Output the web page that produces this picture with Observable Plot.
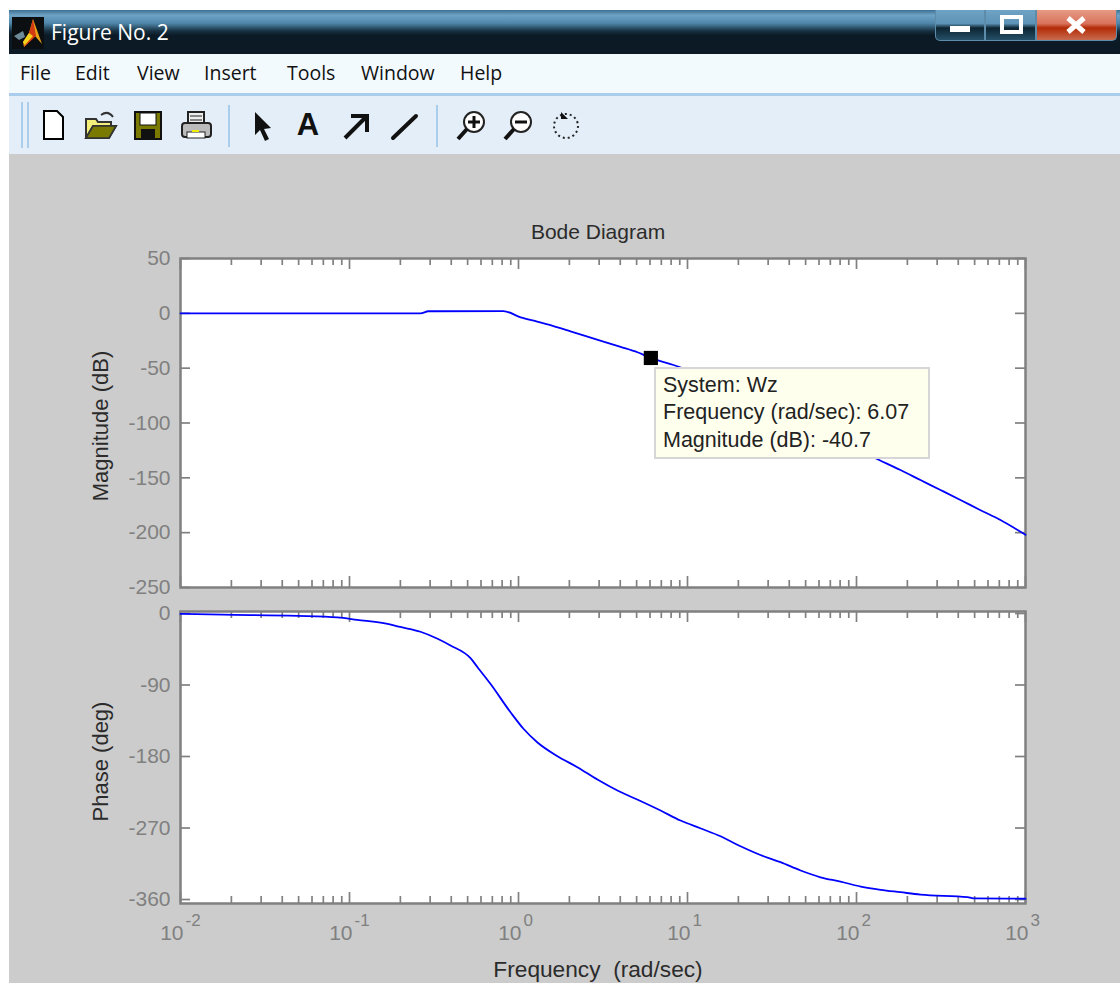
<!DOCTYPE html>
<html>
<head>
<meta charset="utf-8">
<script src="https://cdn.jsdelivr.net/npm/d3@7"></script>
<script src="https://cdn.jsdelivr.net/npm/@observablehq/plot@0.6"></script>
<style>
  html, body { margin:0; padding:0; background:#fff; }
  #page { position:relative; width:1120px; height:983px; overflow:hidden; font-family:"Liberation Sans",Arial,sans-serif; }
  #page > * { position:absolute; }
  #win { left:9px; top:10px; right:0; bottom:0; background:#cccccc; }
  #titlebar { left:9px; right:0; top:10px; height:44px;
    background:linear-gradient(#3d6f92 0,#6ea3c6 12%,#4f86a9 30%,#173040 48%,#0b1a24 58%,#0b1a24 100%); }
  #wintitle { left:51px; top:18px; color:#fff; font:21px "Open Sans",sans-serif; white-space:pre; }
  #menu { left:9px; right:0; top:54px; height:40px; background:#f3fafe; }
  .mi { top:59px; font:19.5px "Open Sans",sans-serif; color:#111; }
  #rule { left:9px; right:0; top:93px; height:3px; background:#a9cdea; }
  #tools { left:9px; right:0; top:96px; height:58px; background:#e4eef9; }
  .sep { top:105px; width:2px; height:42px; background:#a9cdea; }
  .ico { top:108px; width:34px; height:36px; overflow:visible; }
  .wb { top:10px; height:31px; border:1px solid #5d8cab; border-top:none; box-sizing:border-box;
    background:linear-gradient(#6fa3c6 0,#5d93b6 45%,#0d2431 60%,#245068 100%); }
  #wclose { background:linear-gradient(#e69a84 0,#d9735c 45%,#b22b06 60%,#c86b50 100%); border-radius:0 0 5px 0; }
  #wmin { border-radius:0 0 0 5px; }
  #tip { left:654px; top:367px; width:276px; height:92px; box-sizing:border-box; background:#ffffee; border:2px solid #d6d6d6; }
  .tl { left:663px; font:21.5px "Liberation Sans",Arial,sans-serif; color:#222; white-space:pre; }
</style>
</head>
<body>
<div id="page">
  <div id="win"></div>
  <div id="titlebar"></div>
  <svg class="ico" style="left:12px;top:16px;width:32px;height:34px" viewBox="0 0 32 34">
    <rect width="32" height="32" y="1" fill="#0b0f12"/>
    <path d="M2 20 L11 15 L13 21 L7 24Z" fill="#6d8b96"/>
    <path d="M21 3 L30 28 L23 20 L12 31 L11 26 L17 17Z" fill="#e8a217"/>
    <path d="M21 3 L24 20 L12 31 L17 17Z" fill="#d43a12"/>
    <path d="M17 17 L21 20 L13 29 L11 26Z" fill="#f4d31c"/>
  </svg>
  <div id="wintitle">Figure No. 2</div>

  <div class="wb" id="wmin" style="left:935px;width:50px"></div>
  <div class="wb" style="left:985px;width:51px"></div>
  <div class="wb" id="wclose" style="left:1036px;width:81px"></div>
  <svg class="ico" style="left:935px;top:10px;width:182px;height:31px;overflow:visible" viewBox="0 0 182 31">
    <rect x="15" y="16" width="20" height="6" fill="#fff"/>
    <rect x="67" y="7" width="19" height="15" fill="none" stroke="#fff" stroke-width="4"/>
    <path d="M133 8 L149 22 M149 8 L133 22" stroke="#fff" stroke-width="5"/>
  </svg>

  <div id="menu"></div>
  <div class="mi" style="left:20px">File</div>
  <div class="mi" style="left:75px">Edit</div>
  <div class="mi" style="left:137px">View</div>
  <div class="mi" style="left:204px">Insert</div>
  <div class="mi" style="left:287px">Tools</div>
  <div class="mi" style="left:361px">Window</div>
  <div class="mi" style="left:460px">Help</div>
  <div id="rule"></div>
  <div id="tools"></div>

  <div class="sep" style="left:21px;width:2px;top:102px;height:46px"></div>
  <div class="sep" style="left:27px;width:2px;top:102px;height:46px"></div>
  <div class="sep" style="left:228px"></div>
  <div class="sep" style="left:436px"></div>

  <svg class="ico" style="left:36px" viewBox="0 0 34 36"><path d="M8 3H21L27 9V31H8Z" fill="#fff" stroke="#000" stroke-width="2"/></svg>
  <svg class="ico" style="left:83px" viewBox="0 0 34 36"><path d="M3 30V11H13L15 14H28V18H10L3 30H26L33 18H10" fill="#f4ef7a" stroke="#333" stroke-width="2"/><path d="M3 30L10 18H33L26 30Z" fill="#7a7a00" stroke="#333" stroke-width="1.5"/><path d="M18 7Q25 2 30 9" fill="none" stroke="#333" stroke-width="2"/></svg>
  <svg class="ico" style="left:131px" viewBox="0 0 34 36"><rect x="4" y="4" width="26" height="27" fill="#7a7a00" stroke="#111" stroke-width="2"/><rect x="9" y="5" width="16" height="12" fill="#fff" stroke="#111"/><rect x="10" y="21" width="14" height="10" fill="#111"/></svg>
  <svg class="ico" style="left:179px" viewBox="0 0 34 36"><path d="M9 15V4H25V15" fill="#eee" stroke="#222" stroke-width="2"/><path d="M11 8H23M11 12H23" stroke="#222"/><rect x="3" y="15" width="29" height="14" rx="3" fill="#bbb" stroke="#222" stroke-width="2"/><rect x="8" y="24" width="18" height="6" fill="#fff" stroke="#222"/><rect x="13" y="22" width="7" height="2" fill="#ee0"/></svg>
  <svg class="ico" style="left:245px" viewBox="0 0 34 36"><path d="M10 4 L10 27 L15 22 L20 33 L24 31 L19 21 L26 20Z" fill="#111"/></svg>
  <div class="ico" style="left:291px;top:107px;font:700 31px 'Liberation Sans';text-align:center;color:#111;">A</div>
  <svg class="ico" style="left:339px" viewBox="0 0 34 36"><path d="M6 30L26 10M12 8H28V24" fill="none" stroke="#111" stroke-width="4"/></svg>
  <svg class="ico" style="left:387px" viewBox="0 0 34 36"><path d="M6 30L29 8" fill="none" stroke="#111" stroke-width="4" stroke-linecap="round"/></svg>
  <svg class="ico" style="left:454px" viewBox="0 0 34 36"><circle cx="20" cy="14" r="10" fill="#fff" stroke="#222" stroke-width="2"/><path d="M13 21L4 31" stroke="#111" stroke-width="4"/><path d="M20 8V20M14 14H26" stroke="#111" stroke-width="3"/></svg>
  <svg class="ico" style="left:501px" viewBox="0 0 34 36"><circle cx="20" cy="14" r="10" fill="#fff" stroke="#222" stroke-width="2"/><path d="M13 21L4 31" stroke="#111" stroke-width="4"/><path d="M14 14H26" stroke="#111" stroke-width="3"/></svg>
  <svg class="ico" style="left:549px" viewBox="0 0 34 36"><circle cx="17" cy="18" r="12" fill="none" stroke="#222" stroke-width="2" stroke-dasharray="2 3"/><path d="M12 4V11H19Z" fill="#111"/></svg>

  <div id="top" style="left:0;top:210px"></div>
  <div id="bottom" style="left:0;top:600px"></div>

  <div id="tip"></div>
  <div class="tl" style="top:373px">System: Wz</div>
  <div class="tl" style="top:400px">Frequency (rad/sec): 6.07</div>
  <div class="tl" style="top:428px">Magnitude (dB): -40.7</div>
</div>

<script>
// Frequencies (rad/sec) and readings of the magnitude curve
const magFreq = [0.01, 0.263, 0.293, 0.815, 1.03, 1.29, 1.61, 2.03, 2.56, 3.18, 4.02, 5.06, 6.07, 6.64, 8.26, 139, 182, 239, 314, 412, 542, 711, 1000];
const magDb   = [0, 0, 1.9, 2, -3.6, -7.6, -11.6, -16.4, -21.3, -25.8, -30.6, -35.5, -40.7, -42.6, -47.1, -134.4, -142.9, -152, -161.1, -170.2, -179.5, -188.5, -202];

// Frequencies (rad/sec) and readings of the phase curve
const phaseFreq = [0.01, 0.0177, 0.0492, 0.0849, 0.111, 0.168, 0.2, 0.263, 0.332, 0.396, 0.52, 0.572, 0.682, 0.897, 1.07, 1.29, 1.7, 2.23, 2.93, 3.85, 5.27, 6.93, 9.09, 11.9, 15.7, 20.6, 27, 35.5, 46.7, 61.2, 80.4, 106, 139, 182, 239, 454, 492, 1000];
const phaseDeg  = [-0.5, -1.5, -3, -5, -8, -13, -17, -23, -31.8, -40.3, -56.3, -67.6, -88.5, -124.3, -145.1, -162, -179.6, -193.4, -209, -222.8, -236, -248, -260.6, -270.3, -280.4, -293, -304, -313, -323.5, -332, -337.4, -343.7, -347.8, -350.8, -353.8, -356.9, -358.5, -359];

// Data tip
const tipFreq = [6.07];
const tipMag  = [-40.7];

// Axis ticks and texts
const decades   = [0.01, 0.1, 1, 10, 100, 1000];
const exponents = ["-2", "-1", "0", "1", "2", "3"];
const multiples = [2, 3, 4, 5, 6, 7, 8, 9];
const minorTicks = decades.slice(0, -1).flatMap(d => multiples.map(m => m * d));
const magTicks   = [50, 0, -50, -100, -150, -200, -250];
const phaseTicks = [0, -90, -180, -270, -360];
const titleText  = "Bode Diagram";
const magLabel   = "Magnitude (dB)";
const phaseLabel = "Phase (deg)";
const freqLabel  = "Frequency  (rad/sec)";

const GREY = "#808080", INK = "#2b2b2b", FONT = "Liberation Sans, Arial, sans-serif";
const rows = (xs, ys) => xs.map((x, i) => ({x, y: ys[i]}));
const FRAME_W = 845;

function panel({height, marginTop, marginBottom, yDomain, yTicks, data, extra}) {
  const frameH = height - marginTop - marginBottom;
  const tick = {stroke: GREY, strokeWidth: 1.7};
  const xTicks = (values, len) => [
    Plot.tickX(values, {x: d => d, insetTop: frameH - len, ...tick}),
    Plot.tickX(values, {x: d => d, insetBottom: frameH - len, ...tick})
  ];
  return Plot.plot({
    width: 1120, height, marginLeft: 180, marginRight: 95, marginTop, marginBottom,
    style: {background: "transparent", fontFamily: FONT, overflow: "visible"},
    x: {type: "log", domain: [0.01, 1000], axis: null},
    y: {domain: yDomain},
    marks: [
      Plot.frame({fill: "#fff", stroke: null}),
      ...xTicks(minorTicks, 7),
      ...xTicks(decades, 11),
      Plot.tickY(yTicks, {y: d => d, insetRight: FRAME_W - 10, ...tick}),
      Plot.tickY(yTicks, {y: d => d, insetLeft: FRAME_W - 10, ...tick}),
      Plot.axisY(yTicks, {anchor: "left", tickSize: 0, tickPadding: 10, label: null, tickFormat: d => String(d), fill: GREY, fontSize: 21, fontVariant: "normal"}),
      Plot.frame({stroke: GREY, strokeWidth: 2.5}),
      Plot.line(data, {x: "x", y: "y", stroke: "#0000ff", strokeWidth: 1.8, curve: "monotone-x"}),
      ...extra
    ]
  });
}

const topPlot = panel({
  height: 390, marginTop: 48, marginBottom: 13,
  yDomain: [-250, 50], yTicks: magTicks, data: rows(magFreq, magDb),
  extra: [
    Plot.dot(rows(tipFreq, tipMag), {x: "x", y: "y", symbol: "square", r: 8, fill: "#000", stroke: null}),
    Plot.text([titleText], {frameAnchor: "top", dy: -34, dx: -5, fill: INK, fontSize: 21}),
    Plot.text([magLabel], {frameAnchor: "left", dx: -80, dy: 3, rotate: -90, textAnchor: "middle", fill: INK, fontSize: 22})
  ]
});
document.getElementById("top").append(topPlot);

const bottomPlot = panel({
  height: 383, marginTop: 11, marginBottom: 80,
  yDomain: [-365, 2.5], yTicks: phaseTicks, data: rows(phaseFreq, phaseDeg),
  extra: [
    Plot.text(decades, {x: d => d, text: () => "10", frameAnchor: "bottom", dy: 36, dx: 3, textAnchor: "end", fill: GREY, fontSize: 21}),
    Plot.text(decades, {x: d => d, text: (d, i) => exponents[i], frameAnchor: "bottom", dy: 22, dx: 5, textAnchor: "start", fill: GREY, fontSize: 17}),
    Plot.text([phaseLabel], {frameAnchor: "left", dx: -80, dy: 4, rotate: -90, textAnchor: "middle", fill: INK, fontSize: 22}),
    Plot.text([freqLabel], {frameAnchor: "bottom", dy: 73, dx: -5, fill: INK, fontSize: 22.7})
  ]
});
document.getElementById("bottom").append(bottomPlot);
</script>
</body>
</html>
